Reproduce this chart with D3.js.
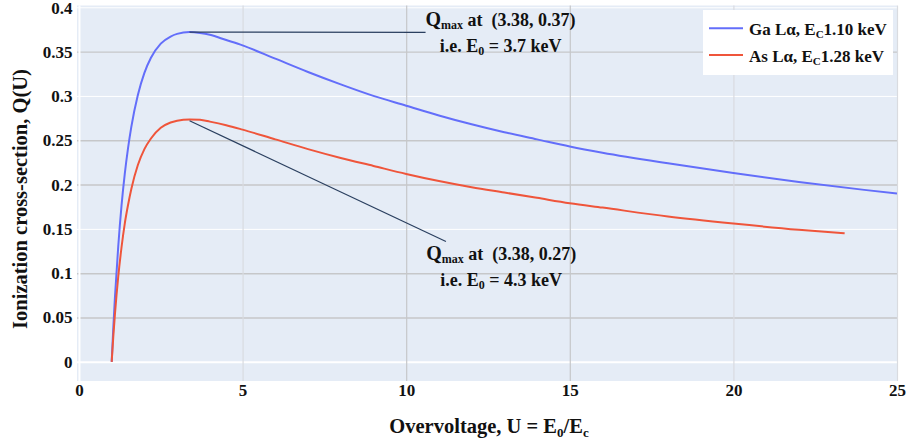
<!DOCTYPE html>
<html><head><meta charset="utf-8">
<script src="https://cdn.jsdelivr.net/npm/d3@7/dist/d3.min.js"></script>
<style>
body{margin:0;background:#fff}
svg{display:block}
text{font-family:"Liberation Serif","DejaVu Serif",serif;font-weight:bold;fill:#111}
</style>
</head><body>
<svg id="chart" width="907" height="447"></svg>
<script>
// ---- data ----
const gaU = [1, 1.05, 1.1, 1.2, 1.3, 1.4, 1.5, 1.6, 1.8, 2.0, 2.2, 2.5, 2.8, 3.0, 3.38, 3.7, 4.0, 4.5, 5, 6, 7, 8, 9, 10, 11, 12, 13, 14, 15, 16, 18, 20, 22, 24, 25];
const gaQ = [0, 0.039, 0.073, 0.130, 0.176, 0.212, 0.241, 0.265, 0.301, 0.326, 0.343, 0.359, 0.367, 0.370, 0.372, 0.371, 0.369, 0.363, 0.357, 0.342, 0.327, 0.313, 0.300, 0.289, 0.278, 0.268, 0.259, 0.251, 0.243, 0.236, 0.224, 0.213, 0.203, 0.194, 0.190];
const asU = [1, 1.05, 1.1, 1.2, 1.3, 1.4, 1.5, 1.6, 1.8, 2.0, 2.2, 2.5, 2.8, 3.0, 3.38, 3.7, 4.0, 4.5, 5, 6, 7, 8, 9, 10, 11, 12, 13, 14, 15, 16, 18, 20, 22, 23.4];
const asQ = [0, 0.029, 0.054, 0.096, 0.129, 0.156, 0.177, 0.195, 0.222, 0.240, 0.252, 0.264, 0.270, 0.272, 0.2735, 0.273, 0.271, 0.267, 0.262, 0.251, 0.240, 0.230, 0.221, 0.212, 0.204, 0.197, 0.191, 0.185, 0.179, 0.174, 0.164, 0.156, 0.149, 0.145];
const seriesNames = ["Ga Lα, E|C|1.10 keV", "As Lα, E|C|1.28 keV"];
const xTicks = [0, 5, 10, 15, 20, 25];
const xTickLabels = ["0", "5", "10", "15", "20", "25"];
const yTicks = [0, 0.05, 0.1, 0.15, 0.2, 0.25, 0.3, 0.35, 0.4];
const yTickLabels = ["0", "0.05", "0.1", "0.15", "0.2", "0.25", "0.3", "0.35", "0.4"];
const peakU = [3.38, 3.38];
const peakQ = [0.372, 0.272];
const peakLabels = ["(3.38, 0.37)", "(3.38, 0.27)"];
const peakE0 = ["3.7", "4.3"];

// ---- drawing ----
const svg = d3.select("#chart");
const L = 77, R = 897, T = 5.5, B = 381;
const x = d3.scaleLinear().domain([-0.06, 25]).range([L, R]);
const y = d3.scaleLinear().domain([-0.0216, 0.402]).range([B, T]);
const colors = ["#636efa", "#ef553b"];

svg.append("rect").attr("x", L).attr("y", T).attr("width", R - L).attr("height", B - T).attr("fill", "#e5ecf6");

const greyY = new Set([0.05, 0.1, 0.2, 0.25, 0.35]);
const greyX = new Set([10, 15]);

// y grid + labels
const yAxis = d3.axisLeft(y).tickValues(yTicks).tickFormat((d, i) => yTickLabels[i]).tickSize(-(R - L)).tickPadding(4);
const gy = svg.append("g").attr("transform", `translate(${L},0)`).call(yAxis);
gy.select(".domain").remove();
gy.selectAll(".tick line")
  .attr("stroke", d => d === 0 ? "#ffffff" : (greyY.has(d) ? "#c6c7c9" : "#ffffff"))
  .attr("stroke-width", d => d === 0 ? 2 : (greyY.has(d) ? 1.4 : 1));
gy.selectAll(".tick text").attr("font-size", 17).attr("x", -4.5).attr("dy", d => d === 0.4 ? "0.38em" : "0.32em");

// x grid + labels
const xAxis = d3.axisBottom(x).tickValues(xTicks).tickFormat((d, i) => xTickLabels[i]).tickSize(-(B - T)).tickPadding(6);
const gx = svg.append("g").attr("transform", `translate(0,${B})`).call(xAxis);
gx.select(".domain").remove();
gx.selectAll(".tick line")
  .attr("stroke", d => d === 0 ? "#ffffff" : (greyX.has(d) ? "#c6c7c9" : "#d9dbe0"))
  .attr("stroke-width", d => d === 0 ? 2 : 1.2);
gx.selectAll(".tick text").attr("font-size", 17).attr("y", 3).attr("dy", "0.71em");
svg.selectAll(".tick text").attr("fill", "#111").attr("font-family", null);

// clip
svg.append("clipPath").attr("id", "clip").append("rect").attr("x", L).attr("y", T).attr("width", R - L).attr("height", B - T);

const line = d3.line().x(d => x(d[0])).y(d => y(d[1])).curve(d3.curveMonotoneX);
const series = [d3.zip(gaU, gaQ), d3.zip(asU, asQ)];
svg.append("g").attr("clip-path", "url(#clip)").selectAll("path").data(series).join("path")
  .attr("d", line).attr("fill", "none").attr("stroke", (d, i) => colors[i]).attr("stroke-width", 2)
  .attr("stroke-linejoin", "round");

// annotations
const offsets = [[311, 0.5], [311.6, 146.7]];
const halfW = 75, halfH = 26;
peakU.forEach((u, i) => {
  const px = x(u), py = y(peakQ[i]);
  const cx = px + offsets[i][0], cy = py + offsets[i][1];
  const dx = cx - px, dy = cy - py;
  let t = (dx - halfW) / dx;
  if (Math.abs(dy) > halfH) t = Math.max(t, (Math.abs(dy) - halfH) / Math.abs(dy));
  svg.append("line").attr("x1", px).attr("y1", py).attr("x2", px + dx * t).attr("y2", py + dy * t)
    .attr("stroke", "#2a3f5f").attr("stroke-width", 1.2);
  const t1 = svg.append("text").attr("x", cx).attr("y", cy - 7).attr("text-anchor", "middle").attr("font-size", 18);
  t1.append("tspan").attr("font-size", 20).text("Q");
  t1.append("tspan").attr("font-size", 12).attr("dy", 3).text("max");
  t1.append("tspan").attr("dy", -3).text(" at\u00a0 " + peakLabels[i]);
  const t2 = svg.append("text").attr("x", cx).attr("y", cy + 19).attr("text-anchor", "middle").attr("font-size", 18);
  t2.append("tspan").text("i.e. E");
  t2.append("tspan").attr("font-size", 12).attr("dy", 3).text("0");
  t2.append("tspan").attr("dy", -3).text(" = " + peakE0[i] + " keV");
});

// legend
const lg = svg.append("g");
lg.append("rect").attr("x", 703).attr("y", 10).attr("width", 190).attr("height", 65).attr("fill", "#ffffff");
seriesNames.forEach((name, i) => {
  const ly = 28.3 + i * 26.7;
  lg.append("line").attr("x1", 709).attr("x2", 743).attr("y1", ly).attr("y2", ly).attr("stroke", colors[i]).attr("stroke-width", 2);
  const parts = name.split("|");
  const tx = lg.append("text").attr("x", 749).attr("y", ly + 6.5).attr("font-size", 17);
  tx.append("tspan").text(parts[0]);
  tx.append("tspan").attr("font-size", 11).attr("dy", 3).text(parts[1]);
  tx.append("tspan").attr("dy", -3).text(parts[2]);
});

// axis titles
const xt = svg.append("text").attr("x", 489).attr("y", 433).attr("text-anchor", "middle").attr("font-size", 20.5);
xt.append("tspan").text("Overvoltage, U = E");
xt.append("tspan").attr("font-size", 13).attr("dy", 4).text("0");
xt.append("tspan").attr("dy", -4).text("/E");
xt.append("tspan").attr("font-size", 13).attr("dy", 4).text("c");

svg.append("text").attr("transform", "translate(27,199) rotate(-90)").attr("text-anchor", "middle").attr("font-size", 20.5)
  .text("Ionization cross-section, Q(U)");
</script>
</body></html>
